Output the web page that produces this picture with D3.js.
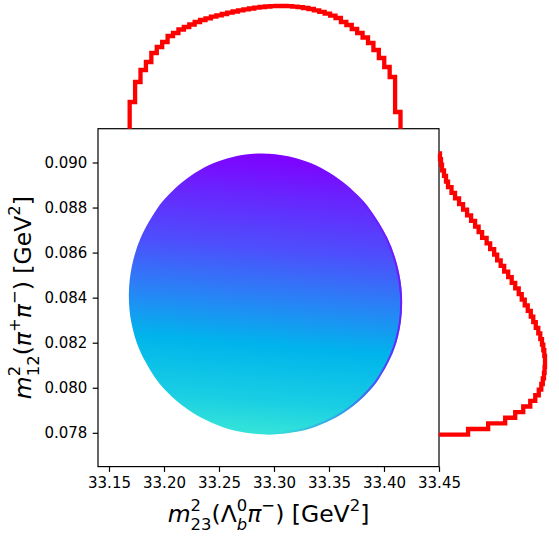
<!DOCTYPE html>
<html><head><meta charset="utf-8">
<script src="https://cdn.jsdelivr.net/npm/d3@7"></script>
<style>body{margin:0;background:#fff}svg{display:block}text{font-family:"DejaVu Sans",sans-serif;fill:#000}</style>
</head><body><svg id="c" width="559" height="539"></svg>
<script>
// ---------- data ----------
const xDomain = [33.14, 33.45];
const yDomain = [0.0765, 0.0915];
const xTicks = [33.15, 33.20, 33.25, 33.30, 33.35, 33.40, 33.45];
const yTicks = [0.078, 0.080, 0.082, 0.084, 0.086, 0.088, 0.090];
const xTickLabels = ["33.15","33.20","33.25","33.30","33.35","33.40","33.45"];
const yTickLabels = ["0.078","0.080","0.082","0.084","0.086","0.088","0.090"];

// Dalitz-region boundary (m12^2 and the m23^2 limits at that m12^2)
const boundaryM12 = [0.077919,0.078044,0.078294,0.078668,0.079167,0.079791,0.080416,0.081664,0.082912,0.084161,0.085409,0.086657,0.087905,0.088530,0.089154,0.089654,0.090028,0.090278,0.090402];
const boundaryM23Min = [33.29527,33.26956,33.25118,33.23393,33.21788,33.20331,33.19246,33.17794,33.17027,33.16805,33.17083,33.17882,33.19314,33.20356,33.21731,33.23229,33.24828,33.26525,33.28903];
const boundaryM23Max = [33.29527,33.32085,33.33898,33.35586,33.37142,33.38535,33.39558,33.40886,33.41527,33.41625,33.41223,33.40299,33.38742,33.37638,33.36199,33.34651,33.33015,33.31293,33.28903];

// density colour level (0..1 of the rainbow map) read along m12^2
const colorM12 = [0.09040, 0.08840, 0.08618, 0.08397, 0.08188, 0.07944, 0.07803];
const colorLevel = [0.00, 0.05, 0.10, 0.17, 0.25, 0.30, 0.35];
const colorTilt = 0.08;

// marginal histogram of m23^2 (top), 50 bins
const m23BinRange = [33.1688, 33.4150];
const m23Counts = [26.7,46.7,58.7,66.7,75.7,81.7,86.7,92.7,95.7,99.2,101.7,104.2,106.7,108.7,110.4,112,113.4,114.7,116,117.2,118.3,119.3,120.2,121,121.7,122.2,122.6,122.7,122.7,122.5,122.1,121.5,120.7,119.7,118.4,116.9,115.1,113,110.7,106.7,103.7,99.7,95.7,91.2,85.7,78.7,70.7,61.7,51.7,16.7];
// marginal histogram of m12^2 (right), 50 bins, low -> high m12^2
const m12BinRange = [0.07792, 0.09040];
const m12Counts = [29,49,66,76,84,91,96,99.5,102,103.5,104.7,105.3,105.7,105.7,105,104,102.7,101,99,96.5,94,91.5,88.5,85.5,82.5,79.5,76,72.5,69,65,61.5,58,55,51,47.5,43,39.5,36,32,28,24,20,16,12.5,9,7,5,3,2,1];

// ---------- drawing ----------
const svg = d3.select("#c");
const X0 = 98, X1 = 439, Y0 = 128.7, Y1 = 466.6;
const x = d3.scaleLinear().domain(xDomain).range([X0, X1]);
const y = d3.scaleLinear().domain(yDomain).range([Y1, Y0]);

function rainbow(v){
  const c = t => Math.max(0, Math.min(1, t));
  return d3.rgb(255*c(Math.abs(2*v-0.5)), 255*c(Math.sin(Math.PI*v)), 255*c(Math.cos(Math.PI*v/2))).formatHex();
}
const colorScale = d3.scaleSequential(rainbow).domain([0,1]);

const defs = svg.append("defs");
const pts = [];
for (let i = 0; i < boundaryM12.length; i++) pts.push([x(boundaryM23Max[i]), y(boundaryM12[i])]);
for (let i = boundaryM12.length - 2; i > 0; i--) pts.push([x(boundaryM23Min[i]), y(boundaryM12[i])]);
const boundaryPath = d3.line().curve(d3.curveCatmullRomClosed.alpha(0.5))(pts);

const xc = x(d3.mean(boundaryM23Min.concat(boundaryM23Max)));
const yA = y(d3.max(boundaryM12)), yB = y(d3.min(boundaryM12));
const xA = xc + colorTilt*(yB-yA)/2, xB = xc - colorTilt*(yB-yA)/2;
const L2 = (xB-xA)**2 + (yB-yA)**2;
const grad = defs.append("linearGradient").attr("id","dens").attr("gradientUnits","userSpaceOnUse")
  .attr("x1",xA).attr("y1",yA).attr("x2",xB).attr("y2",yB);
colorM12.forEach((m,i)=>{
  const py = y(m);
  const off = ((xc-xA)*(xB-xA) + (py-yA)*(yB-yA))/L2;
  grad.append("stop").attr("offset", Math.max(0,Math.min(1,off))).attr("stop-color", colorScale(colorLevel[i]));
});
const rim = defs.append("linearGradient").attr("id","rim").attr("gradientUnits","userSpaceOnUse")
  .attr("x1", xc).attr("y1",0).attr("x2", x(d3.max(boundaryM23Max))).attr("y2",0);
rim.append("stop").attr("offset",0).attr("stop-color",colorScale(0.02)).attr("stop-opacity",0);
rim.append("stop").attr("offset",0.6).attr("stop-color",colorScale(0.02)).attr("stop-opacity",0.3);
rim.append("stop").attr("offset",1).attr("stop-color",colorScale(0.02)).attr("stop-opacity",0.9);
defs.append("clipPath").attr("id","bclip").append("path").attr("d", boundaryPath);

svg.append("path").attr("d", boundaryPath).attr("fill","url(#dens)");
svg.append("path").attr("d", boundaryPath).attr("fill","none").attr("stroke","url(#rim)")
  .attr("stroke-width",4).attr("clip-path","url(#bclip)");

// axes frame
svg.append("rect").attr("x",X0).attr("y",Y0).attr("width",X1-X0).attr("height",Y1-Y0)
  .attr("fill","none").attr("stroke","#000").attr("stroke-width",1.2);

const tickLen = 5.3, pad = 5.3, fs = 15;
const xAxis = svg.append("g").attr("transform",`translate(0,${Y1})`)
  .call(d3.axisBottom(x).tickValues(xTicks).tickFormat((d,i)=>xTickLabels[i]).tickSizeOuter(0).tickSizeInner(tickLen).tickPadding(pad));
xAxis.select(".domain").remove();
xAxis.selectAll("line").attr("stroke","#000").attr("stroke-width",1.2);
xAxis.selectAll("text").attr("font-family","DejaVu Sans").attr("font-size",fs).attr("fill","#000");
const yAxis = svg.append("g").attr("transform",`translate(${X0},0)`)
  .call(d3.axisLeft(y).tickValues(yTicks).tickFormat((d,i)=>yTickLabels[i]).tickSizeOuter(0).tickSizeInner(tickLen).tickPadding(pad));
yAxis.select(".domain").remove();
yAxis.selectAll("line").attr("stroke","#000").attr("stroke-width",1.2);
yAxis.selectAll("text").attr("font-family","DejaVu Sans").attr("font-size",fs).attr("fill","#000");

// marginal histograms
const nTop = m23Counts.length;
const topEdges = d3.range(nTop+1).map(i => m23BinRange[0] + i*(m23BinRange[1]-m23BinRange[0])/nTop);
const ty = d3.scaleLinear().domain([0, d3.max(m23Counts)]).range([Y0, 6]);
const topPts = [[x(topEdges[0]), ty(0)]];
m23Counts.forEach((c,i)=>{ topPts.push([x(topEdges[i]), ty(c)]); topPts.push([x(topEdges[i+1]), ty(c)]); });
topPts.push([x(topEdges[nTop]), ty(0)]);
svg.append("path").attr("d", d3.line()(topPts)).attr("fill","none").attr("stroke","#ff0000")
  .attr("stroke-width",4.3).attr("stroke-linejoin","miter");

const nR = m12Counts.length;
const rEdges = d3.range(nR+1).map(i => m12BinRange[0] + i*(m12BinRange[1]-m12BinRange[0])/nR);
const rx = d3.scaleLinear().domain([0, d3.max(m12Counts)]).range([X1, 545]);
const rPts = [[rx(0), y(rEdges[0])]];
m12Counts.forEach((c,i)=>{ rPts.push([rx(c), y(rEdges[i])]); rPts.push([rx(c), y(rEdges[i+1])]); });
rPts.push([rx(0), y(rEdges[nR])]);
svg.append("path").attr("d", d3.line()(rPts)).attr("fill","none").attr("stroke","#ff0000")
  .attr("stroke-width",4.3).attr("stroke-linejoin","miter");

// math-like labels
function mathLabel(g, runs, size){
  let cx = 0, prevX = 0;
  runs.forEach(r=>{
    const s = size*(r.scale||1);
    const t = g.append("text").attr("font-size", s).attr("font-style", r.it ? "italic" : "normal")
      .attr("y", (r.dy||0)*size).text(r.t);
    const px = r.stack ? prevX : cx;
    t.attr("x", px);
    const w = t.node().getComputedTextLength();
    if (r.stack) { cx = Math.max(cx, px + w); }
    else { prevX = px; cx = px + w; }
  });
  g.selectAll("text").attr("x", function(){ return +d3.select(this).attr("x") - cx/2; });
}
const LS = 23.5;
const SUP = -0.48, SUB = 0.36;
const xl = svg.append("g").attr("transform", `translate(${(X0+X1)/2},522)`);
mathLabel(xl, [
  {t:"m", it:true},
  {t:"2", scale:0.7, dy:SUP},
  {t:"23", scale:0.7, dy:SUB, stack:true},
  {t:"(Λ"},
  {t:"0", scale:0.7, dy:SUP},
  {t:"b", it:true, scale:0.7, dy:SUB, stack:true},
  {t:"π", it:true},
  {t:"−", scale:0.7, dy:SUP},
  {t:" ) [GeV"},
  {t:"2", scale:0.7, dy:SUP},
  {t:"]"}
], LS);
const yl = svg.append("g").attr("transform", `translate(31,${(Y0+Y1)/2}) rotate(-90)`);
mathLabel(yl, [
  {t:"m", it:true},
  {t:"2", scale:0.7, dy:SUP},
  {t:"12", scale:0.7, dy:SUB, stack:true},
  {t:"("},
  {t:"π", it:true},
  {t:"+", scale:0.7, dy:SUP},
  {t:"π", it:true},
  {t:"−", scale:0.7, dy:SUP},
  {t:" ) [GeV"},
  {t:"2", scale:0.7, dy:SUP},
  {t:"]"}
], LS);
</script></body></html>
